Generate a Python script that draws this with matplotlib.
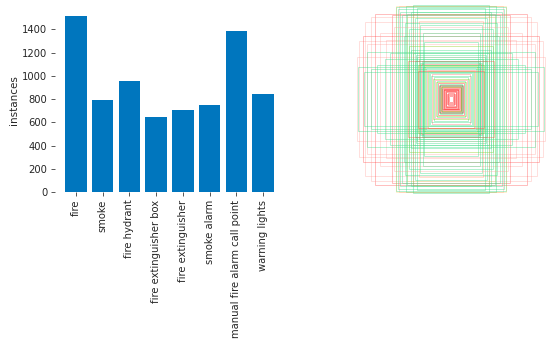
import matplotlib
matplotlib.use("Agg")
import matplotlib.pyplot as plt
from matplotlib.patches import Rectangle

# ---- data ----
class_names = ["fire", "smoke", "fire hydrant", "fire extinguisher box",
               "fire extinguisher", "smoke alarm", "manual fire alarm call point",
               "warning lights"]
instances = [1510, 795, 955, 645, 705, 748, 1385, 845]
yticks = [0, 200, 400, 600, 800, 1000, 1200, 1400]

class_colors = ["#FF3838", "#FF9D97", "#FF701F", "#FFB21D",
                "#CFD231", "#48F90A", "#92CC17", "#3DDB86"]

# normalized box sizes drawn centered: (class index, width, height)
box_class = [
    # large pink / red
    1, 1, 0, 1, 0, 1, 0, 1, 1, 1, 1,
    # small red centre
    0, 0, 0, 0, 0, 0, 0, 0, 0, 0, 0, 0, 0, 0, 0,
    # mixed near centre
    0, 7, 0, 7, 6, 0, 7, 7, 6, 0, 7, 6, 7, 7, 7, 6,
    # green mid
    7, 7, 7, 7, 7, 7, 6, 7, 0, 7, 7, 6, 7, 7, 7, 6,
    # tall green
    7, 7, 7, 7, 7, 7, 7, 7, 7, 7, 7, 7, 7, 7, 7, 7,
    # wide green
    7, 7, 7, 7, 7, 7, 7,
    # orange / yellow
    2, 3, 4, 2,
    # pink mid
    0, 0, 1,
]
box_w = [
    0.97, 0.905, 0.93, 0.88, 0.80, 0.75, 0.62, 0.55, 0.84, 0.68, 0.99,
    0.02, 0.03, 0.04, 0.05, 0.06, 0.07, 0.08, 0.09, 0.10, 0.11, 0.12, 0.13, 0.035, 0.055, 0.075,
    0.14, 0.15, 0.17, 0.18, 0.19, 0.20, 0.21, 0.23, 0.24, 0.25, 0.12, 0.16, 0.10, 0.22, 0.13, 0.11,
    0.26, 0.28, 0.30, 0.31, 0.33, 0.34, 0.35, 0.36, 0.32, 0.38, 0.29, 0.27, 0.40, 0.42, 0.37, 0.44,
    0.47, 0.42, 0.52, 0.38, 0.33, 0.56, 0.30, 0.44, 0.36, 0.50, 0.28, 0.40, 0.46, 0.48, 0.54, 0.58,
    0.84, 0.78, 0.92, 0.70, 0.64, 0.88, 0.98,
    0.40, 0.58, 0.46, 0.34,
    0.45, 0.35, 0.60,
]
box_h = [
    0.61, 0.81, 0.66, 0.58, 0.90, 0.70, 0.88, 0.98, 0.86, 0.62, 0.44,
    0.03, 0.04, 0.05, 0.07, 0.08, 0.09, 0.10, 0.11, 0.12, 0.13, 0.15, 0.14, 0.06, 0.08, 0.11,
    0.17, 0.19, 0.20, 0.23, 0.21, 0.26, 0.24, 0.28, 0.30, 0.31, 0.16, 0.18, 0.14, 0.27, 0.15, 0.13,
    0.33, 0.36, 0.34, 0.40, 0.38, 0.42, 0.36, 0.44, 0.37, 0.40, 0.39, 0.35, 0.48, 0.52, 0.46, 0.56,
    0.98, 0.92, 0.88, 0.85, 0.78, 0.95, 0.70, 0.74, 0.96, 0.66, 0.60, 0.99, 0.90, 0.80, 0.92, 0.97,
    0.32, 0.36, 0.28, 0.42, 0.48, 0.50, 0.34,
    0.90, 0.98, 0.86, 0.82,
    0.40, 0.30, 0.76,
]

# ---- figure ----
fig = plt.figure(figsize=(5.5, 3.46), dpi=100)
text_color = "#262626"

ax = fig.add_axes([55 / 550, (346 - 192) / 346, 229 / 550, 184.3 / 346])
x = list(range(len(class_names)))
ax.bar(x, instances, width=0.8, color="#0076BE")
ax.set_xticks(x)
ax.set_xticklabels(class_names, rotation=90, fontsize=7.2, color=text_color)
ax.set_yticks(yticks)
ax.set_yticklabels([str(v) for v in yticks], fontsize=7.2, color=text_color)
ax.set_ylabel("instances", fontsize=7.5, color=text_color, labelpad=2)
ax.set_xlim(-0.79, 7.79)
ax.set_ylim(0, max(instances) * 1.05)
for s in ["top", "right", "left", "bottom"]:
    ax.spines[s].set_visible(False)
ax.tick_params(axis="both", length=3, width=0.7, color="#555555", pad=2.5)

ax2 = fig.add_axes([356 / 550, (346 - 194) / 346, 190 / 550, 190 / 346])
ax2.set_xlim(0, 1)
ax2.set_ylim(0, 1)
ax2.axis("off")
for c, w, h in zip(box_class, box_w, box_h):
    if c in (2, 3, 4):
        a = 0.22
    elif c == 0 and w < 0.15:
        a = 0.45
    elif c == 0 and w < 0.3:
        a = 0.28
    elif c in (6, 7):
        a = 0.4
    else:
        a = 0.33
    ax2.add_patch(Rectangle((0.5 - w / 2, 0.5 - h / 2), w, h, fill=False,
                            edgecolor=class_colors[c], linewidth=0.7, alpha=a))

fig.savefig("out.png", dpi=100)
